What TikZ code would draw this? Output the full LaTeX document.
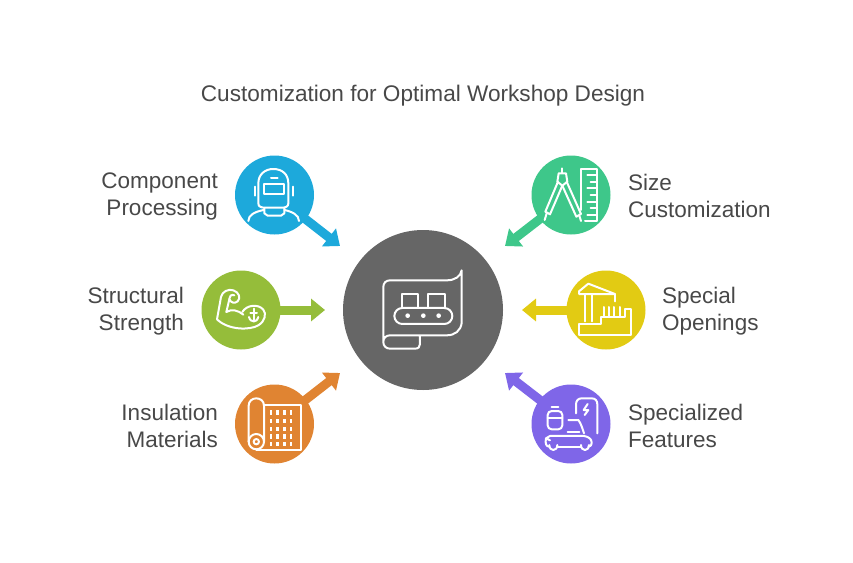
\documentclass[tikz,border=0pt]{standalone}
\usepackage{fontspec}
\setmainfont{Liberation Sans}
\usetikzlibrary{arrows.meta}
\definecolor{txtgrey}{HTML}{484848}
\definecolor{hubgrey}{HTML}{666666}
\definecolor{compblue}{HTML}{1DA9DB}
\definecolor{structgreen}{HTML}{95BD3A}
\definecolor{insorange}{HTML}{E08432}
\definecolor{sizegreen}{HTML}{3EC78A}
\definecolor{openyellow}{HTML}{E2CB13}
\definecolor{featpurple}{HTML}{7F66E8}
\tikzset{
  blob/.style={circle,fill=#1,minimum size=79pt,inner sep=0pt,outer sep=0pt},
  spoke/.style={draw=#1,line width=9pt,shorten <=-3pt,-{Triangle[length=14pt,width=22pt]}},
  lab/.style={text=txtgrey,inner sep=0pt,font=\fontsize{22.5}{27}\selectfont},
  icon/.style={draw=white,line width=2pt,line join=round,line cap=round},
}
\begin{document}
\begin{tikzpicture}[x=1pt,y=-1pt]
\useasboundingbox (0,0) rectangle (853,562);
\node[lab,font=\fontsize{22.6}{27}\selectfont] (title) at (423,96) {Customization for Optimal Workshop Design};
% arrow ends
\coordinate (compend) at (340,246);
\coordinate (structend) at (325,310);
\coordinate (insend) at (340,373);
\coordinate (sizeend) at (505,246);
\coordinate (openend) at (522,310);
\coordinate (featend) at (505,373);
% circles
\node[blob=hubgrey,minimum size=160pt] (hub) at (423,310) {};
\node[blob=compblue] (comp) at (274.5,195) {};
\node[blob=structgreen] (struct) at (241,310) {};
\node[blob=insorange] (ins) at (274.5,424) {};
\node[blob=sizegreen] (size) at (571,195) {};
\node[blob=openyellow] (open) at (606,310) {};
\node[blob=featpurple] (feat) at (571,424) {};
\draw[spoke=compblue] (comp) -- (compend);
\draw[spoke=structgreen] (struct) -- (structend);
\draw[spoke=insorange] (ins) -- (insend);
\draw[spoke=sizegreen] (size) -- (sizeend);
\draw[spoke=openyellow] (open) -- (openend);
\draw[spoke=featpurple] (feat) -- (featend);
% labels
\node[lab,anchor=east,align=right] (complab) at (218,196) {Component\\Processing};
\node[lab,anchor=east,align=right] (structlab) at (184,311) {Structural\\Strength};
\node[lab,anchor=east,align=right] (inslab) at (218,426) {Insulation\\Materials};
\node[lab,anchor=west,align=left] (sizelab) at (628,196) {Size\\Customization};
\node[lab,anchor=west,align=left] (openlab) at (662,311) {Special\\Openings};
\node[lab,anchor=west,align=left] (featlab) at (628,426) {Specialized\\Features};
% hub icon
\begin{scope}[shift={(340,228)},scale=.3333]
\draw[icon] (130,340) -- (130,177) .. controls (130,165) and (138,157) .. (150,157) -- (320,157)
  .. controls (345,157) and (362,145) .. (365,127) -- (365,285)
  .. controls (362,308) and (345,322) .. (320,322) -- (150,322)
  .. controls (138,322) and (130,330) .. (130,342) .. controls (130,354) and (138,362) .. (150,362)
  -- (225,362) .. controls (235,362) and (240,357) .. (240,348) -- (240,322);
\draw[icon] (185,240) rectangle (235,197);
\draw[icon] (265,240) rectangle (315,197);
\draw[icon,rounded corners=8pt] (163,240) rectangle (337,288);
\foreach \x in {203,250,296} \fill[white] (\x,263) circle (7);
\end{scope}
% welder
\begin{scope}[shift={(225,145)},scale=.3333]
\draw[icon] (100,175) -- (100,115) .. controls (100,88) and (120,72) .. (145,72)
  .. controls (172,72) and (190,88) .. (190,115) -- (190,175) .. controls (190,185) and (182,188) .. (170,188) -- (120,188) .. controls (108,188) and (100,185) .. (100,175);
\draw[icon] (116,118) rectangle (178,148);
\draw[icon] (138,98) -- (158,98);
\draw[icon] (90,125) -- (90,152) (205,125) -- (205,152);
\draw[icon] (70,228) .. controls (70,210) and (90,200) .. (116,195);
\draw[icon] (222,228) .. controls (222,210) and (202,200) .. (178,195);
\draw[icon] (118,190) -- (118,205) -- (128,212) -- (168,212) -- (178,205) -- (178,190);
\end{scope}
% arm
\begin{scope}[shift={(195,262)},scale=.3333]
\draw[icon] (66,172) -- (78,105) .. controls (82,88) and (100,80) .. (115,85) .. controls (132,90) and (138,108) .. (128,118)
  .. controls (120,126) and (105,122) .. (103,110) .. controls (102,102) and (110,96) .. (118,100);
\draw[icon] (103,112) -- (94,150) .. controls (110,140) and (130,145) .. (145,158);
\draw[icon] (66,172) .. controls (100,205) and (165,205) .. (190,190) .. controls (210,178) and (215,155) .. (205,143) .. controls (190,125) and (155,128) .. (142,150);
\draw[icon] (176,140) -- (176,178) (166,152) -- (186,152);
\draw[icon] (162,165) .. controls (165,175) and (170,178) .. (176,178) .. controls (182,178) and (187,175) .. (190,165);
\end{scope}
% roll
\begin{scope}[shift={(225,365)},scale=.3333]
\draw[icon] (71,230) -- (71,122) .. controls (71,108) and (82,100) .. (94,100) .. controls (106,100) and (117,108) .. (117,122) -- (117,230);
\draw[icon] (94,230) circle (23);
\draw[icon] (94,230) circle (8);
\draw[icon] (117,120) -- (228,120) -- (228,255) -- (94,255);
\foreach \x in {138,158,178,198} \foreach \y in {143,168,192,215,237}
  \fill[white] (\x-4,\y-7) rectangle (\x+4,\y+7);
\end{scope}
% compass and ruler
\begin{scope}[shift={(500,150)},scale=.3333]
\draw[icon] (187,55) -- (187,68);
\draw[icon] (176,70) -- (198,70) -- (202,95) -- (187,107) -- (172,95) -- cycle;
\draw[icon] (174,95) -- (136,185) -- (150,193) -- (187,107);
\draw[icon] (200,95) -- (243,192) -- (229,200) -- (187,107);
\draw[icon] (140,190) -- (134,210) (238,197) -- (243,213);
\draw[icon] (243,180) -- (243,57) -- (290,57) -- (290,212) -- (255,212);
\foreach \y in {75,115,155,195} \draw[icon] (290,\y) -- (262,\y);
\foreach \y in {95,135,175} \draw[icon] (290,\y) -- (272,\y);
\end{scope}
% crane
\begin{scope}[shift={(515,262)},scale=.3333]
\draw[icon] (192,88) -- (220,65) -- (300,96) -- (192,96) -- cycle;
\draw[icon] (210,97) -- (210,178) (232,97) -- (232,178) (300,96) -- (300,118);
\draw[icon] (192,185) -- (258,185) -- (258,165) -- (330,165) -- (330,140) -- (348,140) -- (348,218) -- (192,218) -- cycle;
\foreach \x in {266,282,298,314} \draw[icon] (\x,135) -- (\x,165);
\end{scope}
% charging car
\begin{scope}[shift={(500,365)},scale=.3333]
\draw[icon] (228,145) -- (228,118) .. controls (228,107) and (235,100) .. (245,100) -- (275,100) .. controls (286,100) and (292,107) .. (292,118) -- (292,205);
\draw[icon] (263,117) -- (251,135) -- (265,135) -- (254,150);
\draw[icon,rounded corners=4pt] (143,193) rectangle (187,138);
\draw[icon] (155,127) -- (175,127) (143,160) -- (187,160);
\draw[icon] (205,165) -- (235,165) .. controls (243,175) and (247,190) .. (252,205);
\draw[icon] (203,200) -- (238,200);
\draw[icon] (150,213) -- (252,213) .. controls (265,215) and (275,222) .. (275,232) .. controls (275,242) and (270,245) .. (265,245);
\draw[icon] (150,213) -- (138,220) -- (150,226) (138,220) .. controls (135,235) and (138,245) .. (148,245);
\draw[icon] (172,245) -- (243,245);
\draw[icon] (148,240) .. controls (148,260) and (172,260) .. (172,240);
\draw[icon] (243,240) .. controls (243,260) and (267,260) .. (267,240);
\end{scope}
\end{tikzpicture}
\end{document}
